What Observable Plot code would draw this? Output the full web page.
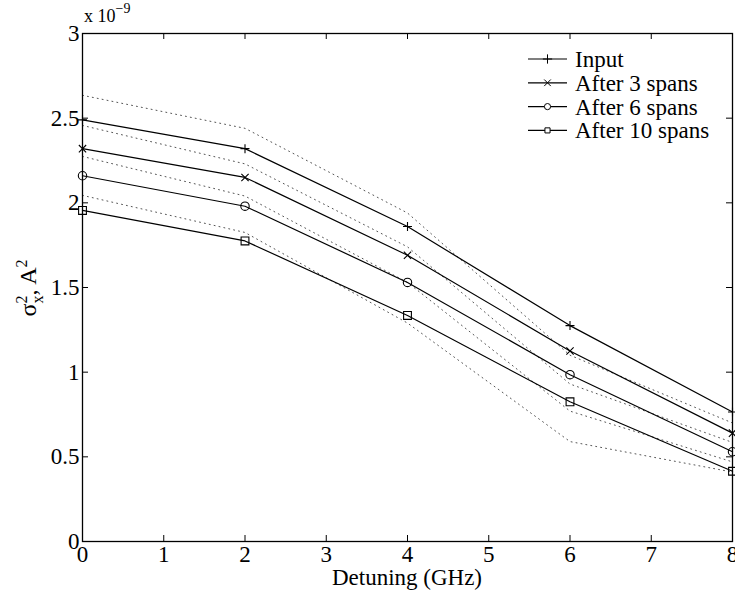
<!DOCTYPE html>
<html><head><meta charset="utf-8">
<script src="https://cdn.jsdelivr.net/npm/d3@7"></script>
<script src="https://cdn.jsdelivr.net/npm/@observablehq/plot@0.6"></script>
<style>
body{margin:0;background:#fff}
#chart{position:relative;width:735px;height:594px;font-family:"Liberation Serif","Times New Roman",serif}
#legend{position:absolute;left:524px;top:46px}
</style>
</head><body><div id="chart"></div>
<script>
// values in units of 1e-9 A^2
const detuning = [0, 2, 4, 6, 8];
const seriesNames = ["Input", "After 3 spans", "After 6 spans", "After 10 spans"];
const seriesSymbols = ["plus", "times", "circle", "square"];
const inputVals   = [2.49, 2.32, 1.86, 1.275, 0.765];
const after3Vals  = [2.32, 2.15, 1.69, 1.125, 0.64];
const after6Vals  = [2.16, 1.98, 1.53, 0.985, 0.53];
const after10Vals = [1.955, 1.775, 1.335, 0.825, 0.415];
const dotted1 = [2.635, 2.44, 1.94, 1.10, 0.70];
const dotted2 = [2.457, 2.23, 1.74, 0.93, 0.585];
const dotted3 = [2.274, 2.04, 1.53, 0.77, 0.47];
const dotted4 = [2.044, 1.825, 1.29, 0.59, 0.41];
const xTicks = [0, 1, 2, 3, 4, 5, 6, 7, 8];
const yTicks = [0, 0.5, 1, 1.5, 2, 2.5, 3];
const xLabel = "Detuning (GHz)";

const solidSeries = [inputVals, after3Vals, after6Vals, after10Vals];
const dottedSeries = [dotted1, dotted2, dotted3, dotted4];
const solidRows = solidSeries.flatMap((vals, i) => vals.map((v, j) => ({x: detuning[j], y: v, s: seriesNames[i]})));
const dottedRows = dottedSeries.flatMap((vals, i) => vals.map((v, j) => ({x: detuning[j], y: v, s: "d" + i})));
const markerR = {plus: 3, times: 3.4, circle: 4.2, square: 4.4};

const W = 735, H = 594, ML = 82, MR = 3, MT = 33, MB = 53, TICK = 6;
const innerW = W - ML - MR, innerH = H - MT - MB;
const FS = 23;
const plot = Plot.plot({
  width: W, height: H,
  marginLeft: ML, marginRight: MR, marginTop: MT, marginBottom: MB,
  style: {fontFamily: '"Liberation Serif","Times New Roman",serif', fontSize: FS + "px", background: "#fff", color: "#000", overflow: "visible"},
  x: {domain: [0, 8], label: null, axis: null},
  y: {domain: [0, 3], label: null, axis: null},
  marks: [
    Plot.line(dottedRows, {x: "x", y: "y", z: "s", stroke: "#555", strokeWidth: 1, strokeDasharray: "1,4"}),
    Plot.line(solidRows, {x: "x", y: "y", z: "s", stroke: "#000", strokeWidth: 1.2}),
    ...seriesNames.map((name, i) => Plot.dot(solidRows.filter(d => d.s === name), {
      x: "x", y: "y", symbol: seriesSymbols[i], r: markerR[seriesSymbols[i]],
      stroke: "#000", fill: "none", strokeWidth: 1.1
    })),
    Plot.ruleX(xTicks, {x: d => d, insetTop: innerH - TICK, stroke: "#000"}),
    Plot.ruleX(xTicks, {x: d => d, insetBottom: innerH - TICK, stroke: "#000"}),
    Plot.ruleY(yTicks, {y: d => d, insetRight: innerW - TICK, stroke: "#000"}),
    Plot.ruleY(yTicks, {y: d => d, insetLeft: innerW - TICK, stroke: "#000"}),
    Plot.frame({stroke: "#000", strokeWidth: 1.3}),
    Plot.axisX(xTicks, {anchor: "bottom", tickSize: 0, tickPadding: 4, fill: "#000", fontSize: FS, label: null}),
    Plot.axisY(yTicks, {anchor: "left", tickSize: 0, tickPadding: 3, fill: "#000", fontSize: FS, label: null, tickFormat: d => String(d)})
  ]
});
const chart = document.getElementById("chart");
chart.appendChild(plot);

const svg = d3.select(plot);
// x axis label
svg.append("text").attr("x", 407).attr("y", 585).attr("text-anchor", "middle")
  .attr("font-size", FS).attr("fill", "#000").text(xLabel);
// exponent label
const ex = svg.append("text").attr("x", 84).attr("y", 22).attr("text-anchor", "start")
  .attr("font-size", FS - 5).attr("fill", "#000");
ex.append("tspan").text("x 10");
ex.append("tspan").attr("dy", -9).attr("font-size", FS - 9).text("\u22129");
// y label
const yl = svg.append("text").attr("transform", "translate(36,288) rotate(-90)")
  .attr("text-anchor", "middle").attr("font-size", FS + 1).attr("fill", "#000");
yl.append("tspan").text("\u03c3");
yl.append("tspan").attr("dy", -9).attr("font-size", FS - 7).text("2");
yl.append("tspan").attr("dy", 16).attr("dx", -8).attr("font-size", FS - 7).text("x");
yl.append("tspan").attr("dy", -7).text(", A");
yl.append("tspan").attr("dy", -9).attr("font-size", FS - 7).text("2");

// legend
const legend = d3.select(chart).append("svg").attr("id", "legend").attr("width", 205).attr("height", 100);
const symMap = {plus: d3.symbolPlus, times: d3.symbolTimes, circle: d3.symbolCircle, square: d3.symbolSquare};
const symSize = {plus: 30, times: 30, circle: 30, square: 26};
seriesNames.forEach((name, i) => {
  const yy = 13 + i * 23.8;
  const g = legend.append("g").attr("transform", `translate(0,${yy})`);
  g.append("line").attr("x1", 4).attr("x2", 43).attr("y1", 0).attr("y2", 0).attr("stroke", "#000").attr("stroke-width", 1.2);
  g.append("path").attr("transform", "translate(23.5,0)")
    .attr("d", d3.symbol(symMap[seriesSymbols[i]], symSize[seriesSymbols[i]])())
    .attr("fill", seriesSymbols[i] === "circle" || seriesSymbols[i] === "square" ? "#fff" : "none")
    .attr("stroke", "#000").attr("stroke-width", 1);
  g.append("text").attr("x", 51).attr("y", 0).attr("dy", "0.35em").attr("font-size", FS).attr("fill", "#000")
    .style("font-family", '"Liberation Serif","Times New Roman",serif').text(name);
});
</script>
</body></html>
